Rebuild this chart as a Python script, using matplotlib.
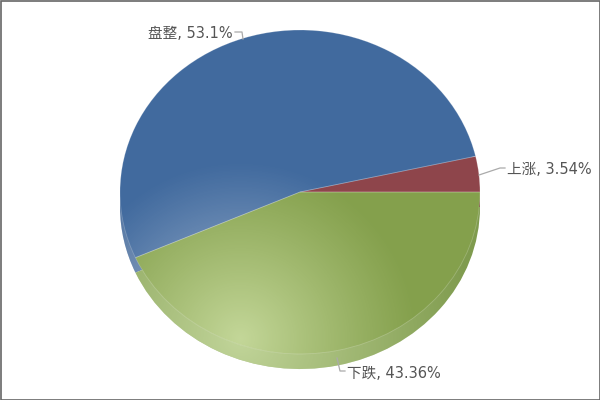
import numpy as np
import matplotlib
matplotlib.use("Agg")
import matplotlib.pyplot as plt
from matplotlib.transforms import Affine2D
from matplotlib.patches import Rectangle

plt.rcParams['font.family'] = ['DejaVu Sans', 'Noto Sans CJK SC']

categories = ['上涨', '盘整', '下跌']
values = [3.54, 53.1, 43.36]
value_labels = ['3.54%', '53.1%', '43.36%']
top_colors = ['#8e454b', '#416a9e', '#84a04c']
side_colors = ['#7f3e44', '#3c6396', '#7f9b4e']
glow_colors = [(1, 1, 1), (1, 1, 1), (0.95, 1, 0.82)]

fig = plt.figure(figsize=(6, 4), dpi=100, facecolor='white')
ax = fig.add_axes([0, 0, 1, 1])
px = Affine2D().scale(1 / 600, -1 / 400).translate(0, 1) + fig.transFigure

CX, CY, RX, RY, DEPTH = 300, 192, 180, 162, 15
xlim = (-CX / RX, (600 - CX) / RX)
ylim = (-(400 - CY) / RY, CY / RY)


def fix_axes():
    ax.set_aspect('auto')
    ax.set_xlim(*xlim)
    ax.set_ylim(*ylim)
    ax.axis('off')


side, _ = ax.pie(values, colors=side_colors, startangle=0, radius=1,
                 center=(0, -DEPTH / RY), wedgeprops=dict(linewidth=0, zorder=2))
top, _ = ax.pie(values, colors=top_colors, startangle=0, radius=1,
                center=(0, 0), wedgeprops=dict(linewidth=0, zorder=3))

# radial highlight lying over the blue and green surfaces
gy, gx = np.mgrid[0:400, 0:600]
d = np.hypot(gx - 240, gy - 338)
extent = (xlim[0], xlim[1], ylim[0], ylim[1])
for group, z, reach in ((top, 3.5, 178), (side, 2.5, 240)):
    a = np.clip(1 - d / reach, 0, 1) ** 1.1 * 0.58
    for w, glow in list(zip(group, glow_colors))[1:]:
        rgba = np.ones((400, 600, 4))
        rgba[..., :3] = glow
        rgba[..., 3] = a
        im = ax.imshow(rgba, extent=extent, origin='upper', aspect='auto',
                       zorder=z, interpolation='bilinear')
        im.set_clip_path(w)

# faint rim on the top surface
ax.pie(values, colors=['none'] * 3, startangle=0, radius=1, center=(0, 0),
       wedgeprops=dict(linewidth=0.6, edgecolor=(1, 1, 1, 0.22), zorder=4))
fix_axes()

leaders = [
    [(479, 175), (500, 168), (505, 168)],
    [(243, 39), (242, 32), (235, 32)],
    [(337, 358), (340, 371), (345, 371)],
]
label_pos = [(507, 170, 'left'), (233, 33, 'right'), (347, 373, 'left')]
for cat, lab, pts, (x, y, ha) in zip(categories, value_labels, leaders, label_pos):
    xs, ys = zip(*pts)
    ax.plot(xs, ys, color='#aaaaaa', lw=0.9, transform=px, zorder=5, clip_on=False)
    ax.text(x, y, f'{cat}, {lab}', transform=px, ha=ha, va='center',
            fontsize=10.5, color='#555555', zorder=6)

fig.add_artist(Rectangle((0.5, 0.5), 599, 399, transform=px, fill=False,
                         edgecolor='#666666', lw=1.2))
fig.savefig('out.png', dpi=100)
